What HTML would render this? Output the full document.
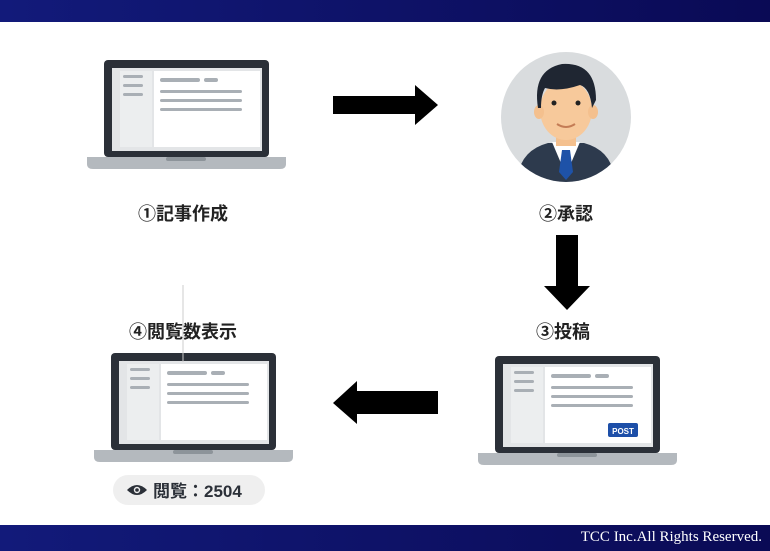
<!DOCTYPE html>
<html><head><meta charset="utf-8"><style>
*{margin:0;padding:0}
body{width:770px;height:551px;position:relative;background:#fff;overflow:hidden;font-family:"Liberation Sans","Noto Sans CJK JP",sans-serif}
.bar{position:absolute;left:0;width:770px;background:linear-gradient(90deg,#121a7a,#0a0a55)}
.lbl{position:absolute;font-size:18px;font-weight:bold;color:#222;transform:translateX(-50%);white-space:nowrap}
</style></head><body>
<div class="bar" style="top:0;height:22px"></div>
<div class="bar" style="top:525px;height:26px"></div>
<div style="position:absolute;right:8px;top:529px;color:#fff;font-family:'Liberation Serif',serif;font-size:15px">TCC Inc.All Rights Reserved.</div>

<svg width="770" height="551" style="position:absolute;left:0;top:0">
<defs>
<g id="lap">
<rect x="0" y="0" width="165" height="97" rx="4" fill="#2b3038"/>
<rect x="8" y="8" width="150" height="83" fill="#e3e5e7"/>
<rect x="16" y="11" width="32" height="76" fill="#eceeef"/>
<rect x="50" y="11" width="106" height="76" fill="#fff"/>
<rect x="19" y="15" width="20" height="3" rx="1.5" fill="#a9afb5"/>
<rect x="19" y="24" width="20" height="3" rx="1.5" fill="#a9afb5"/>
<rect x="19" y="33" width="20" height="3" rx="1.5" fill="#a9afb5"/>
<rect x="56" y="18" width="40" height="4" rx="2" fill="#a9afb5"/>
<rect x="100" y="18" width="14" height="4" rx="2" fill="#a9afb5"/>
<rect x="56" y="30" width="82" height="3" rx="1.5" fill="#a9afb5"/>
<rect x="56" y="39" width="82" height="3" rx="1.5" fill="#a9afb5"/>
<rect x="56" y="48" width="82" height="3" rx="1.5" fill="#a9afb5"/>
<path d="M-17 97 H182 V104 Q182 109 176 109 H-11 Q-17 109 -17 104Z" fill="#b4b9be"/>
<rect x="62" y="97" width="40" height="4" rx="2" fill="#8d949a"/>
</g>
</defs>
<use href="#lap" x="104" y="60"/>
<use href="#lap" x="111" y="353"/>
<use href="#lap" x="495" y="356"/>
<rect x="608" y="423" width="30" height="14" rx="2" fill="#1d4fa8"/>
<text x="623" y="434" font-size="8" font-weight="bold" fill="#fff" text-anchor="middle" font-family="Liberation Sans">POST</text>

<circle cx="566" cy="117" r="65" fill="#d9dcde"/>
<clipPath id="cc"><circle cx="566" cy="117" r="65"/></clipPath>
<g clip-path="url(#cc)">
<path d="M518 175 Q522 150 548 143 H584 Q610 150 614 175 V190 H518Z" fill="#2d3a4d"/>
<path d="M552 142 L566 175 L580 142Z" fill="#fff"/>
<path d="M562 150 H570 L573 172 L566 180 L559 172Z" fill="#1e52a8"/>
<rect x="556" y="132" width="20" height="14" fill="#f4c08e"/>
<ellipse cx="566" cy="110" rx="26" ry="30" fill="#f7c99b"/>
<ellipse cx="539" cy="112" rx="5" ry="7" fill="#f4c08e"/>
<ellipse cx="593" cy="112" rx="5" ry="7" fill="#f4c08e"/>
<path d="M538 108 Q532 70 562 64 Q596 62 596 100 L592 108 Q590 88 580 85 Q560 92 545 88 Q541 95 541 108Z" fill="#1f2632"/>
<circle cx="554" cy="103" r="2.5" fill="#222"/>
<circle cx="578" cy="103" r="2.5" fill="#222"/>
<path d="M557 124 Q566 130 575 124" stroke="#c47c55" stroke-width="2" fill="none"/>
</g>

<path d="M333 96 H415 V85 L438 105 L415 125 V114 H333Z" fill="#000"/>
<path d="M556 235 H578 V286 H590 L567 310 L544 286 H556Z" fill="#000"/>
<path d="M438 391 H357 V381 L333 403 L357 424 V414 H438Z" fill="#000"/>
<line x1="183" y1="285" x2="183" y2="362" stroke="#ccc" stroke-width="1"/>

<rect x="113" y="475" width="152" height="30" rx="15" fill="#efefef"/>
<path d="M127 490 Q137 480 147 490 Q137 500 127 490Z" fill="#2b3038"/>
<circle cx="137" cy="490" r="3.2" fill="#efefef"/>
<circle cx="137" cy="490" r="1.8" fill="#2b3038"/>
<text x="153" y="497" font-size="17" font-weight="bold" fill="#2b3038" font-family="Liberation Sans, Noto Sans CJK JP, sans-serif">閲覧：2504</text>
</svg>

<div class="lbl" style="left:183px;top:200px">①記事作成</div>
<div class="lbl" style="left:566px;top:200px">②承認</div>
<div class="lbl" style="left:563px;top:318px">③投稿</div>
<div class="lbl" style="left:183px;top:318px">④閲覧数表示</div>
</body></html>
